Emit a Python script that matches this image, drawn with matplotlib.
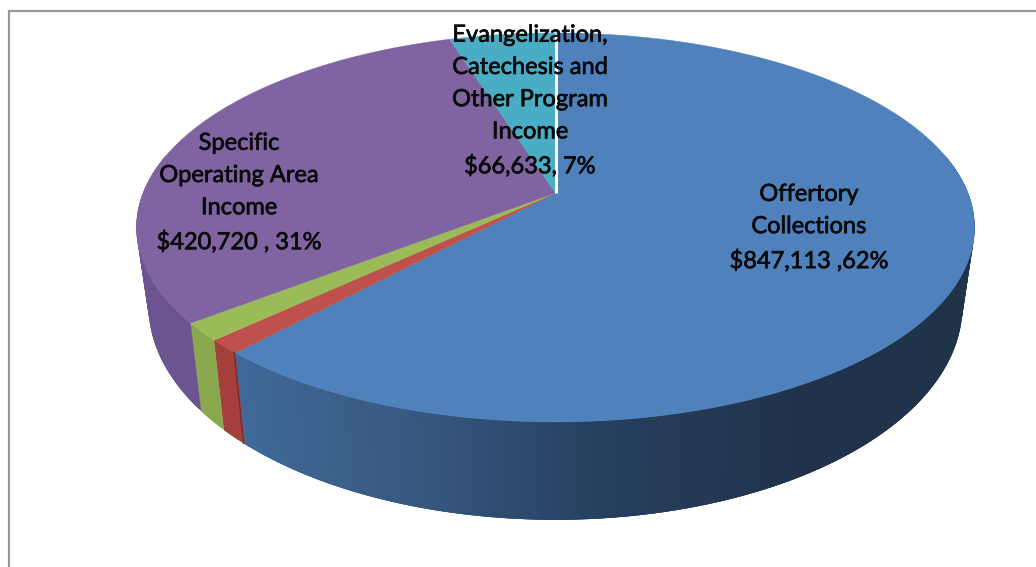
import numpy as np
import matplotlib.pyplot as plt
import matplotlib.patheffects as pe

plt.rcParams['font.family'] = ['Lato', 'DejaVu Sans']

# slices, clockwise from 12 o'clock
values = [847113, 16000, 20500, 420720, 66633]
top_colors = ['#4f81bd', '#c0504d', '#9bbb59', '#8064a2', '#4bacc6']
side_colors = ['#406a9c', '#a53f3c', '#8aa84e', '#6c5490', '#3f96ad']

labels = ['Offertory\nCollections\n$847,113 ,62%',
          'Specific\nOperating Area\nIncome\n$420,720 , 31%',
          'Evangelization,\nCatechesis and\nOther Program\nIncome\n$66,633, 7%']
label_pos = [(809, 228), (239, 193), (530, 101)]

# blue side shading, screen x -> rgb
shade_x = [236, 420, 600, 800, 970]
shade_r = [64, 55, 38, 32, 31]
shade_g = [106, 88, 64, 51, 51]
shade_b = [154, 128, 96, 75, 73]

# pie projection in pixels
cx, cy = 555.5, 193
bx, ay, k = 412.4, 188.4, 0.177
low_bx, low_ay, low_y = 400.5, 207.2, 268


def top_rim(theta):
    t = np.radians(theta)
    u, v = np.sin(t), np.cos(t)
    return cx + bx * u / (1 + k * v), cy - ay * v / (1 + k * v)


def low_rim(theta):
    t = np.radians(theta)
    u, v = np.sin(t), np.cos(t)
    return cx + low_bx * u / (1 + k * v), low_y - low_ay * v / (1 + k * v)


fig = plt.figure(figsize=(10.36, 5.67), dpi=100)
ax = fig.add_axes([0, 0, 1, 1])
ax.set_xlim(0, 1036)
ax.set_ylim(567, 0)
ax.axis('off')

# chart frame (no right or bottom edge in view)
ax.plot([8.5, 8.5, 1036], [567, 11, 11], color='#979797', lw=1.6, solid_joinstyle='miter')

edges = np.concatenate([[0], np.cumsum(values) / np.sum(values) * 360])

# side wall, front half only. each strip overlaps the next one to avoid seams
for i in range(len(values)):
    a0 = max(edges[i], 78)
    a1 = min(edges[i + 1], 282)
    if a1 <= a0:
        continue
    steps = np.arange(a0, a1, 0.5)
    for s0 in steps:
        th = np.linspace(s0, min(s0 + 1.5, a1), 4)
        xt, yt = top_rim(th)
        xl, yl = low_rim(th)
        if i == 0:
            xm = (xt[0] + xl[0]) / 2
            c = (np.interp(xm, shade_x, shade_r) / 255,
                 np.interp(xm, shade_x, shade_g) / 255,
                 np.interp(xm, shade_x, shade_b) / 255)
        else:
            c = side_colors[i]
        ax.fill(np.r_[xt, xl[::-1]], np.r_[yt, yl[::-1]], color=c, lw=0)

# dark edge on red side next to blue
xa, ya = top_rim(edges[1] + 0.2)
xb, yb = low_rim(edges[1] + 0.2)
ax.plot([xa, xb], [ya, yb], color='#7f2d2a', lw=1.2)

# top face
for i in range(len(values)):
    th = np.linspace(edges[i], edges[i + 1], 200)
    xs, ys = top_rim(th)
    ax.fill(np.r_[cx, xs], np.r_[cy, ys], color=top_colors[i], lw=0.3)

# white gap where first and last slice meet
xw, yw = top_rim(edges[0])
ax.plot([xw, cx], [yw, cy], color='white', lw=2.2, solid_capstyle='butt')

for txt, (lx, ly) in zip(labels, label_pos):
    t = ax.text(lx, ly, txt, ha='center', va='center', fontsize=17,
                color='#0a0a0a', linespacing=1.66)
    t.set_path_effects([pe.withStroke(linewidth=0.5, foreground='#0a0a0a')])

plt.savefig('out.png', dpi=100)
